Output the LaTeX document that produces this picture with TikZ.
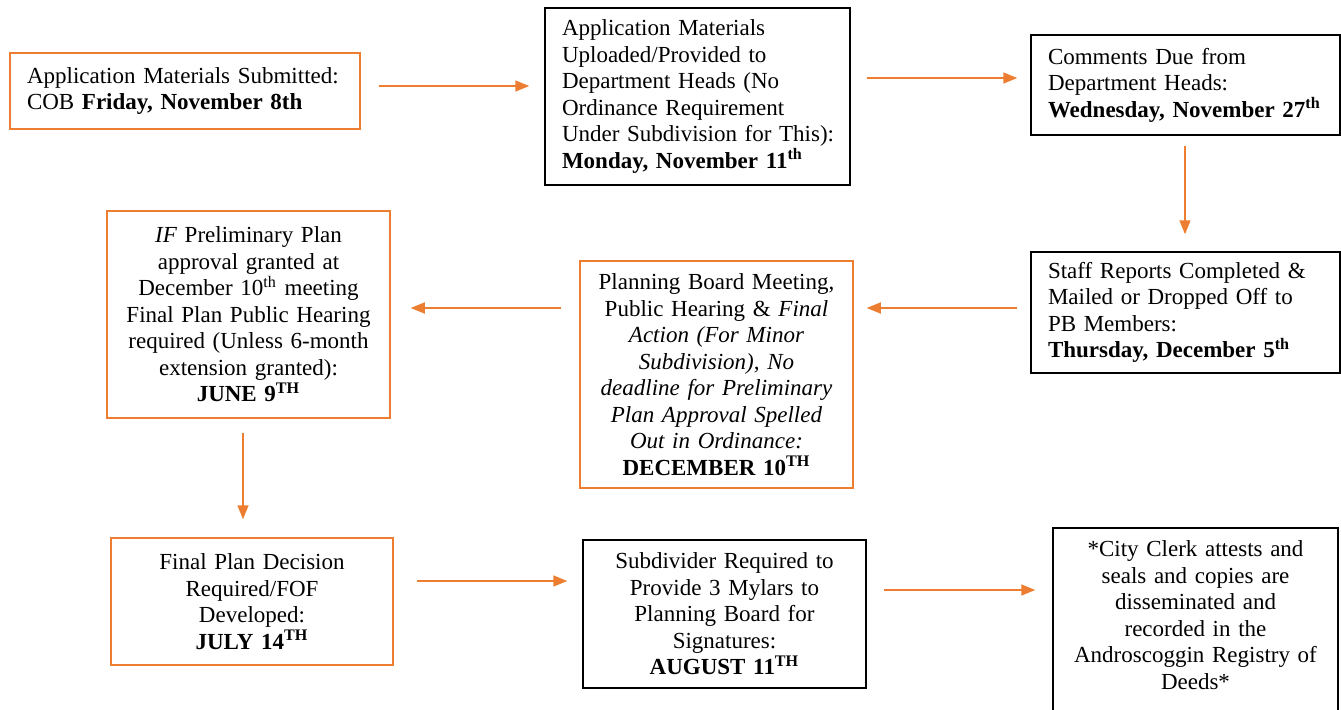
\documentclass[tikz,border=0pt]{standalone}
\usepackage{fontspec}
\setmainfont{Liberation Serif}
\usetikzlibrary{arrows.meta}
\definecolor{orng}{RGB}{237,125,49}
\tikzset{
  box/.style={draw, line width=0.75pt, inner ysep=2pt, font=\fontsize{11.5pt}{13.25pt}\selectfont},
  obox/.style={box, draw=orng},
  kbox/.style={box, draw=black},
  lefttext/.style={align=left, inner xsep=8.5pt},
  midtext/.style={align=center, inner xsep=3pt},
  arr/.style={draw=orng, line width=0.8pt, -{Triangle[length=7pt,width=5.5pt]}}
}
\begin{document}
\begin{tikzpicture}[x=0.5pt,y=-0.5pt]
\useasboundingbox (0,0) rectangle (1341,709);
\clip (0,0) rectangle (1341,709);
% row 1
\node[obox, lefttext, text width=158pt, minimum width=175pt, minimum height=38pt] (b1) at (185,91)
  {Application Materials Submitted:\\ COB \textbf{Friday, November 8th}};
\node[kbox, lefttext, text width=135.5pt, minimum width=152.5pt, minimum height=88.5pt] (b2) at (697.5,96.5)
  {Application Materials\\ Uploaded/Provided to\\ Department Heads (No\\ Ordinance Requirement\\ \mbox{Under Subdivision for This):}\\ \textbf{Monday, November 11\textsuperscript{th}}};
\node[kbox, lefttext, text width=137.5pt, minimum width=154.5pt, minimum height=50pt] (b3) at (1185.5,85)
  {Comments Due from\\ Department Heads:\\ \mbox{\textbf{Wednesday, November 27\textsuperscript{th}}}};
% row 2
\node[kbox, lefttext, text width=137.5pt, minimum width=154.5pt, minimum height=60.5pt] (b4) at (1185.5,312.5)
  {Staff Reports Completed \&\\ Mailed or Dropped Off to\\ PB Members:\\ \textbf{Thursday, December 5\textsuperscript{th}}};
\node[obox, midtext, text width=130.5pt, minimum width=136.5pt, minimum height=113.5pt] (b5) at (716.5,374.5)
  {Planning Board Meeting,\\ Public Hearing \& \textit{Final}\\ \textit{Action (For Minor}\\ \textit{Subdivision), No}\\ \textit{deadline for Preliminary}\\ \textit{Plan Approval Spelled}\\ \textit{Out in Ordinance:}\\ \textbf{DECEMBER 10\textsuperscript{TH}}};
\node[obox, midtext, text width=135.5pt, minimum width=141.5pt, minimum height=103.5pt] (b6) at (248.5,314.5)
  {\textit{IF} Preliminary Plan\\ approval granted at\\ December 10\textsuperscript{th} meeting\\ Final Plan Public Hearing\\ required (Unless 6-month\\ extension granted):\\ \textbf{JUNE 9\textsuperscript{TH}}};
% row 3
\node[obox, midtext, text width=135pt, minimum width=141pt, minimum height=63.5pt] (b7) at (252,601.5)
  {Final Plan Decision\\ Required/FOF\\ Developed:\\ \textbf{JULY 14\textsuperscript{TH}}};
\node[kbox, midtext, text width=135.5pt, minimum width=141.5pt, minimum height=74pt] (b8) at (724.5,614)
  {Subdivider Required to\\ Provide 3 Mylars to\\ Planning Board for\\ Signatures:\\ \textbf{AUGUST 11\textsuperscript{TH}}};
\node[kbox, midtext, text width=136.5pt, minimum width=142.5pt, inner ysep=6.5pt, anchor=north] (b9) at (1195.5,527)
  {*City Clerk attests and\\ seals and copies are\\ disseminated and\\ recorded in the\\ Androscoggin Registry of\\ Deeds*\\ \mbox{}\\ \mbox{}};
% connectors
\draw[arr, shorten <=9pt, shorten >=7.5pt] ([yshift=2.5pt]b1.east) -- ([yshift=2.5pt]b1.east -| b2.west);
\draw[arr, shorten <=8pt, shorten >=6.5pt] ([yshift=9.25pt]b2.east) -- ([yshift=9.25pt]b2.east -| b3.west);
\draw[arr, shorten <=5pt, shorten >=8.5pt] ([xshift=-0.25pt]b3.south) -- ([xshift=-0.25pt]b3.south |- b4.north);
\draw[arr, shorten <=6.5pt, shorten >=6.5pt] ([yshift=2.25pt]b4.west) -- ([yshift=2.25pt]b4.west -| b5.east);
\draw[arr, shorten <=9pt, shorten >=10pt] ([yshift=33.25pt]b5.west) -- ([yshift=33.25pt]b5.west -| b6.east);
\draw[arr, shorten <=7pt, shorten >=9pt] ([xshift=-2.75pt]b6.south) -- ([xshift=-2.75pt]b6.south |- b7.north);
\draw[arr, shorten <=11.5pt, shorten >=7.5pt] ([yshift=10.25pt]b7.east) -- ([yshift=10.25pt]b7.east -| b8.west);
\draw[arr, shorten <=8.5pt, shorten >=8.5pt] ([yshift=12pt]b8.east) -- ([yshift=12pt]b8.east -| b9.west);
\end{tikzpicture}
\end{document}
